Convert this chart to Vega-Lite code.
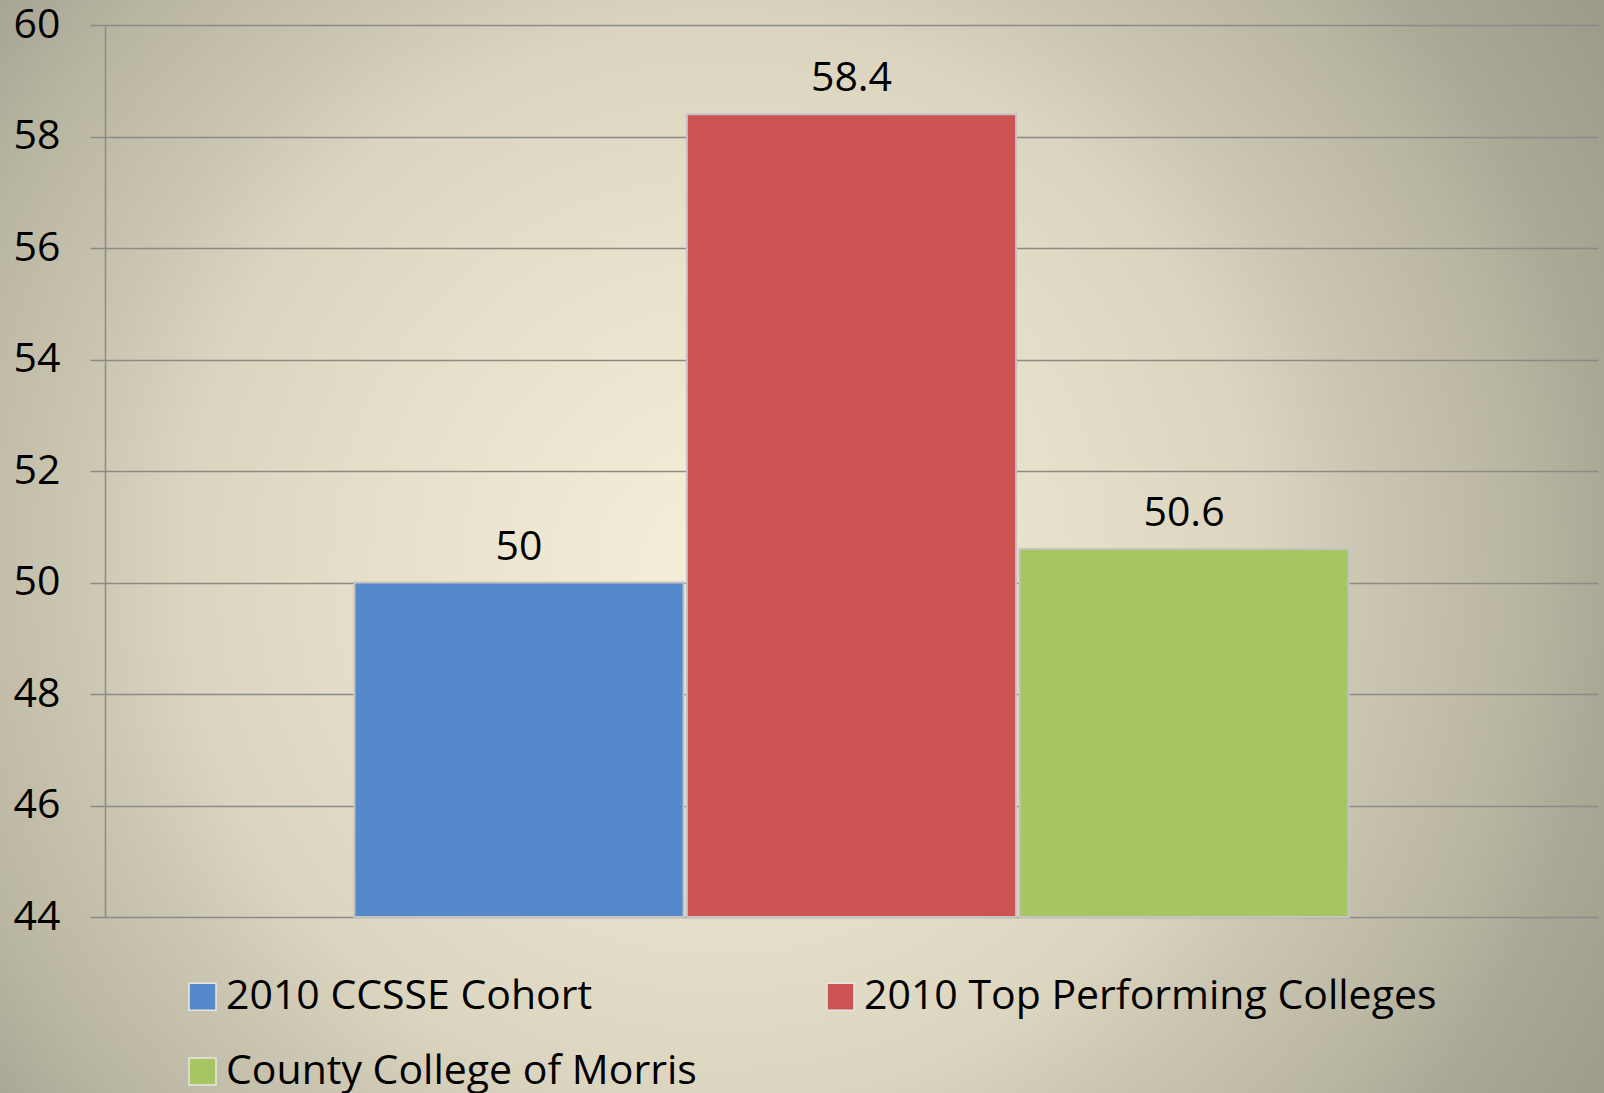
{
  "$schema": "https://vega.github.io/schema/vega-lite/v6.json",
  "width": 1604,
  "height": 1093,
  "autosize": {"type": "none"},
  "padding": 0,
  "background": "#c3bfaa",
  "data": {
    "values": [
      {"series": "2010 CCSSE Cohort", "value": 50},
      {"series": "2010 Top Performing Colleges", "value": 58.4},
      {"series": "County College of Morris", "value": 50.6}
    ]
  },
  "encoding": {
    "x": {
      "field": "series",
      "type": "nominal",
      "sort": null,
      "scale": {"range": [105, 1598], "paddingInner": 0.01, "paddingOuter": 0.75},
      "axis": null
    }
  },
  "layer": [
    {
      "mark": {"type": "bar", "stroke": "#c4c4c4", "strokeWidth": 2},
      "encoding": {
        "y": {
          "field": "value",
          "type": "quantitative",
          "scale": {"domain": [44, 60], "range": [917, 25], "zero": false, "nice": false},
          "axis": {
            "values": [44, 46, 48, 50, 52, 54, 56, 58, 60],
            "format": "d",
            "offset": -105,
            "title": null,
            "grid": true,
            "gridColor": "#8a8a8a",
            "gridWidth": 1.5,
            "domain": true,
            "domainColor": "#8a8a8a",
            "domainWidth": 1.5,
            "ticks": true,
            "tickSize": 15,
            "tickColor": "#8a8a8a",
            "tickWidth": 1.5,
            "labelPadding": 30,
            "labelFont": "Open Sans",
            "labelFontSize": 41,
            "labelColor": "#000000",
            "labelBaseline": "middle",
            "labelFlush": false
          }
        },
        "y2": {"datum": 44},
        "color": {
          "field": "series",
          "type": "nominal",
          "sort": null,
          "scale": {"range": ["#5689cb", "#cc5452", "#a7c663"]},
          "legend": {
            "title": null,
            "orient": "none",
            "legendX": 182,
            "legendY": 976,
            "direction": "horizontal",
            "columns": 2,
            "columnPadding": 123,
            "rowPadding": 33,
            "padding": 0,
            "symbolType": "square",
            "symbolSize": 729,
            "symbolStrokeColor": "#e6e6e6",
            "symbolStrokeWidth": 1.5,
            "symbolOpacity": 1,
            "labelFont": "Open Sans",
            "labelFontSize": 41,
            "labelColor": "#000000",
            "labelOffset": 3,
            "labelLimit": 900
          }
        }
      }
    },
    {
      "mark": {
        "type": "text",
        "baseline": "alphabetic",
        "dy": -23,
        "font": "Open Sans",
        "fontSize": 41,
        "color": "#000000"
      },
      "encoding": {
        "y": {"field": "value", "type": "quantitative"},
        "text": {"field": "value", "type": "quantitative"}
      }
    }
  ],
  "config": {
    "view": {
      "stroke": null,
      "fill": {
        "gradient": "radial",
        "x1": 0.449, "y1": 0.512, "r1": 0,
        "x2": 0.449, "y2": 0.512, "r2": 0.748,
        "stops": [
          {"offset": 0, "color": "#f6efd9"},
          {"offset": 0.3, "color": "#e5dfca"},
          {"offset": 0.45, "color": "#dbd5c0"},
          {"offset": 0.54, "color": "#cbc6b1"},
          {"offset": 0.67, "color": "#b8b5a1"},
          {"offset": 0.74, "color": "#aba896"},
          {"offset": 0.86, "color": "#9e9b8a"},
          {"offset": 1, "color": "#989584"}
        ]
      }
    }
  }
}
